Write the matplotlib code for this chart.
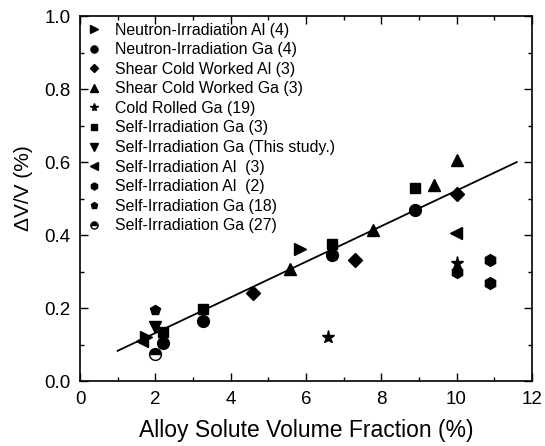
import matplotlib.pyplot as plt
from matplotlib.ticker import MultipleLocator

plt.rcParams['font.family'] = ['Liberation Sans', 'DejaVu Sans']

# Data: (x = alloy solute volume fraction %, y = dV/V %)
neutron_al_x = [1.75, 5.83]
neutron_al_y = [0.12, 0.363]
neutron_ga_x = [2.21, 3.28, 6.69, 8.90]
neutron_ga_y = [0.105, 0.165, 0.345, 0.468]
shear_al_x = [4.59, 7.31, 10.0]
shear_al_y = [0.240, 0.333, 0.512]
shear_ga_x = [5.58, 7.79, 9.40, 10.0]
shear_ga_y = [0.306, 0.415, 0.537, 0.607]
cold_ga_x = [6.6, 10.0]
cold_ga_y = [0.121, 0.324]
self_ga3_x = [2.21, 3.28, 6.69, 8.90]
self_ga3_y = [0.135, 0.197, 0.375, 0.528]
self_ga_study_x = [2.0]
self_ga_study_y = [0.148]
self_al3_x = [1.65, 9.98]
self_al3_y = [0.11, 0.406]
self_al2_x = [10.0, 10.9, 10.9]
self_al2_y = [0.30, 0.333, 0.27]
self_ga18_x = [2.0]
self_ga18_y = [0.196]
self_ga27_x = [2.0]
self_ga27_y = [0.074]

# linear fit
fit_x = [1.0, 11.6]
slope = 0.0488
intercept = 0.034

fig = plt.figure(figsize=(5.45, 4.46), dpi=100)
ax = fig.add_axes([0.1468, 0.1457, 0.829, 0.818])

ax.plot(fit_x, [intercept + slope * x for x in fit_x], color='black', lw=1.3)

ms = 8.5
ax.plot(neutron_al_x, neutron_al_y, '>', color='black', ms=ms, ls='none', label='Neutron-Irradiation Al (4)')
ax.plot(neutron_ga_x, neutron_ga_y, 'o', color='black', ms=ms, ls='none', label='Neutron-Irradiation Ga (4)')
ax.plot(shear_al_x, shear_al_y, 'D', color='black', ms=ms - 1.5, ls='none', label='Shear Cold Worked Al (3)')
ax.plot(shear_ga_x, shear_ga_y, '^', color='black', ms=ms, ls='none', label='Shear Cold Worked Ga (3)')
ax.plot(cold_ga_x, cold_ga_y, '*', color='black', ms=ms + 1, ls='none', label='Cold Rolled Ga (19)')
ax.plot(self_ga3_x, self_ga3_y, 's', color='black', ms=ms - 1, ls='none', label='Self-Irradiation Ga (3)')
ax.plot(self_ga_study_x, self_ga_study_y, 'v', color='black', ms=ms, ls='none', label='Self-Irradiation Ga (This study.)')
ax.plot(self_al3_x, self_al3_y, '<', color='black', ms=ms, ls='none', label='Self-Irradiation Al  (3)')
ax.plot(self_al2_x, self_al2_y, 'h', color='black', ms=ms, ls='none', label='Self-Irradiation Al  (2)')
ax.plot(self_ga18_x, self_ga18_y, 'p', color='black', ms=ms - 1, ls='none', label='Self-Irradiation Ga (18)')
ax.plot(self_ga27_x, self_ga27_y, 'o', color='black', mfc='black', mfcalt='white', fillstyle='top',
        mec='black', ms=ms, ls='none', label='Self-Irradiation Ga (27)')

ax.set_xlim(0, 12)
ax.set_ylim(0, 1.0)
ax.xaxis.set_major_locator(MultipleLocator(2))
ax.xaxis.set_minor_locator(MultipleLocator(1))
ax.yaxis.set_major_locator(MultipleLocator(0.2))
ax.yaxis.set_minor_locator(MultipleLocator(0.1))
ax.tick_params(which='both', direction='in', top=True, right=True, labelsize=13.5, width=1)
ax.tick_params(which='major', length=6)
ax.tick_params(which='minor', length=3)
ax.tick_params(axis='y', pad=7)
ax.tick_params(axis='x', pad=7)
ax.set_xticks([0, 2, 4, 6, 8, 10, 12])
ax.set_xticklabels(['0', '2', '4', '6', '8', '10', '12'])
ax.set_yticklabels(['%.1f' % v for v in ax.get_yticks()])
for sp in ax.spines.values():
    sp.set_linewidth(1.2)

ax.set_xlabel('Alloy Solute Volume Fraction (%)', fontsize=16.5, labelpad=8)
ax.set_ylabel('ΔV/V (%)', fontsize=15, labelpad=10)
ax.yaxis.set_label_coords(-0.105, 0.53)

leg = ax.legend(loc='upper left', frameon=False, fontsize=11.4, markerscale=0.6,
                handlelength=1.0, handletextpad=0.8, labelspacing=0.29,
                borderaxespad=0.2, borderpad=0.2)

fig.savefig('out.png', dpi=100)
